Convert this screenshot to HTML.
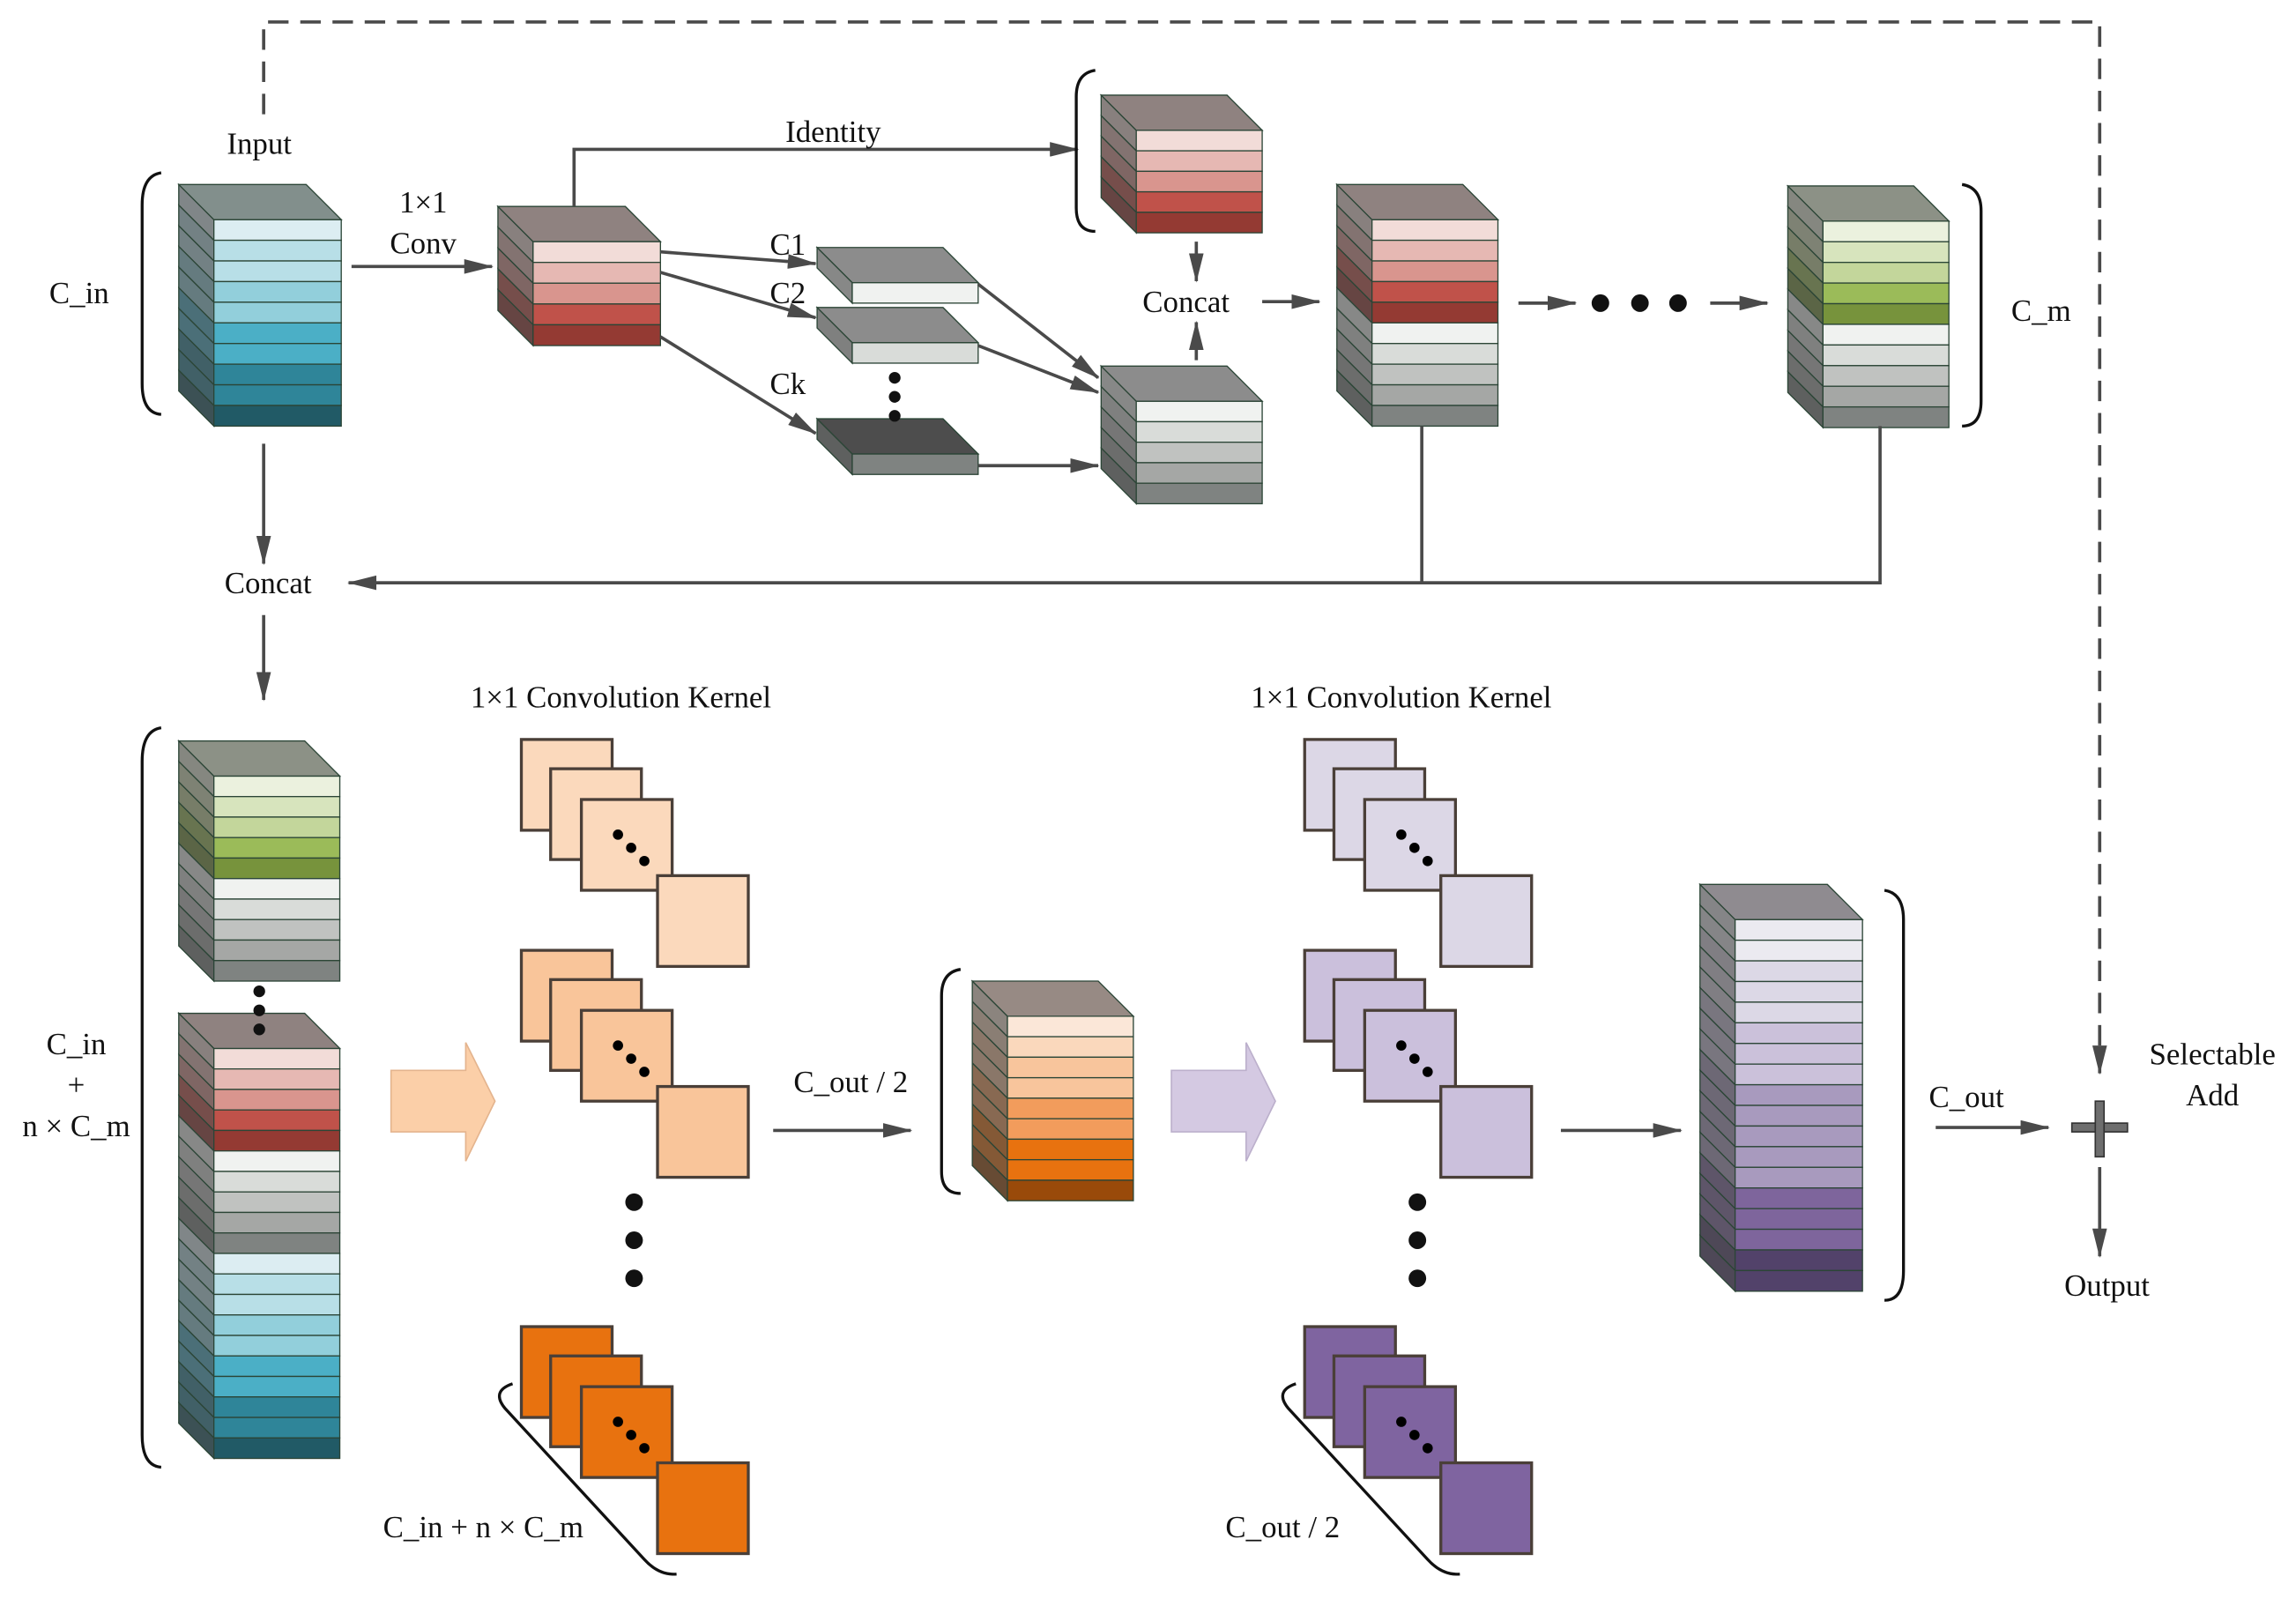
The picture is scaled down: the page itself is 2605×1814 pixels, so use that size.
<!DOCTYPE html>
<html><head><meta charset="utf-8">
<style>
html,body{margin:0;padding:0;background:#fff;}
svg{display:block;}
text{font-family:"Liberation Serif",serif;font-size:21px;fill:#111;}
</style></head>
<body>
<svg id="s" width="2605" height="1814" viewBox="0 0 1568 1092" xmlns="http://www.w3.org/2000/svg">
<defs>
<marker id="ah" viewBox="0 0 20 10" refX="19" refY="5" markerWidth="20" markerHeight="10" markerUnits="userSpaceOnUse" orient="auto">
<path d="M0,0 L20,5 L0,10 z" fill="#4a4a4a"/>
</marker>
</defs>
<g id="g"></g>
<g stroke="#4a4a4a" stroke-width="2.2" fill="none">
<path d="M180,78 V15 H1434 V733" stroke-dasharray="14,8" marker-end="url(#ah)"/>
<path d="M180,303 V385" marker-end="url(#ah)"/>
<path d="M180,420 V478" marker-end="url(#ah)"/>
<path d="M240,182 H336" marker-end="url(#ah)"/>
<path d="M392,141 V102 H736" marker-end="url(#ah)"/>
<path d="M451,172 L557,180" marker-end="url(#ah)"/>
<path d="M451,186 L557,217" marker-end="url(#ah)"/>
<path d="M451,230 L557,296" marker-end="url(#ah)"/>
<path d="M668,194 L750,258" marker-end="url(#ah)"/>
<path d="M668,236 L750,268" marker-end="url(#ah)"/>
<path d="M668,318 L750,318" marker-end="url(#ah)"/>
<path d="M817,246 V220" marker-end="url(#ah)"/>
<path d="M817,165 V192" marker-end="url(#ah)"/>
<path d="M862,206 H901" marker-end="url(#ah)"/>
<path d="M1037,207 H1076" marker-end="url(#ah)"/>
<path d="M1168,207 H1207" marker-end="url(#ah)"/>
<path d="M971,291 V398 M1284,291 V398 H238" />
<path d="M1284,398 H238" marker-end="url(#ah)"/>
<path d="M528,772 H622" marker-end="url(#ah)"/>
<path d="M1066,772 H1148" marker-end="url(#ah)"/>
<path d="M1322,770 H1399" marker-end="url(#ah)"/>
<path d="M1434,797 V858" marker-end="url(#ah)"/>
</g>
<g fill="#6e6e6e" stroke="#333" stroke-width="1">
<rect x="1415" y="767" width="38" height="6"/>
<rect x="1431" y="752" width="6" height="38"/>
</g>
<g fill="none" stroke="#111" stroke-width="2">
<path d="M110,118 Q97,120 97,140 V262 Q97,282 110,283"/>
<path d="M748,48 Q735,50 735,66 V142 Q735,158 748,158"/>
<path d="M1340,126 Q1353,128 1353,144 V274 Q1353,291 1340,291"/>
<path d="M110,497 Q97,499 97,520 V980 Q97,1001 110,1002"/>
<path d="M656,662 Q643,664 643,680 V800 Q643,815 656,815"/>
<path d="M1287,608 Q1300,610 1300,628 V868 Q1300,888 1287,888"/>
<path d="M350,945 Q335,950 345,962 L440,1065 Q450,1076 462,1075"/>
<path d="M885,945 Q870,950 880,962 L975,1065 Q985,1076 997,1075"/>
</g>
<g fill="#111">
<circle cx="1093" cy="207" r="6"/><circle cx="1120" cy="207" r="6"/><circle cx="1146" cy="207" r="6"/>
<circle cx="611" cy="258" r="4"/><circle cx="611" cy="271" r="4"/><circle cx="611" cy="284" r="4"/>
<circle cx="177" cy="677" r="4"/><circle cx="177" cy="690" r="4"/><circle cx="177" cy="703" r="4"/>
<circle cx="433" cy="821" r="6"/><circle cx="433" cy="847" r="6"/><circle cx="433" cy="873" r="6"/>
<circle cx="968" cy="821" r="6"/><circle cx="968" cy="847" r="6"/><circle cx="968" cy="873" r="6"/>
</g>
<path d="M267,731 H318 V712 L338,752 L318,793 V773 H267 Z" fill="#fbcfa8" stroke="#e4b48e" stroke-width="1"/>
<path d="M800,731 H851 V712 L871,752 L851,793 V773 H800 Z" fill="#d4c9e2" stroke="#bcb0cc" stroke-width="1"/>
<g text-anchor="middle">
<text x="177" y="105">Input</text>
<text x="289" y="145">1×1</text>
<text x="289" y="173">Conv</text>
<text x="569" y="97">Identity</text>
<text x="538" y="174">C1</text>
<text x="538" y="207">C2</text>
<text x="538" y="269">Ck</text>
<text x="810" y="213">Concat</text>
<text x="1394" y="219">C_m</text>
<text x="54" y="207">C_in</text>
<text x="183" y="405">Concat</text>
<text x="424" y="483">1×1 Convolution Kernel</text>
<text x="957" y="483">1×1 Convolution Kernel</text>
<text x="52" y="720">C_in</text>
<text x="52" y="748">+</text>
<text x="52" y="776">n × C_m</text>
<text x="581" y="746">C_out / 2</text>
<text x="1343" y="756">C_out</text>
<text x="1511" y="727">Selectable</text>
<text x="1511" y="755">Add</text>
<text x="1439" y="885">Output</text>
<text x="330" y="1050">C_in + n × C_m</text>
<text x="876" y="1050">C_out / 2</text>
</g>
</svg>
<script>
var G=document.getElementById('g'),out='';
function hx(c){return [parseInt(c.substr(1,2),16),parseInt(c.substr(3,2),16),parseInt(c.substr(5,2),16)];}
function side(c){var a=hx(c);var r=a.map(function(v){return Math.round((v*0.45+110*0.55)*0.8);});return 'rgb('+r.join(',')+')';}
function stack(x,y,w,d,h,cols,top){
 var s='';var n=cols.length;
 for(var i=0;i<n;i++){
  var y0=y+i*h,y1=y+(i+1)*h;
  s+='<polygon points="'+(x-d)+','+(y0-d)+' '+x+','+y0+' '+x+','+y1+' '+(x-d)+','+(y1-d)+'" fill="'+side(cols[i])+'" stroke="#2b4536" stroke-width="0.8"/>';
  s+='<rect x="'+x+'" y="'+y0+'" width="'+w+'" height="'+h+'" fill="'+cols[i]+'" stroke="#2b4536" stroke-width="0.8"/>';
 }
 s+='<polygon points="'+(x-d)+','+(y-d)+' '+(x-d+w)+','+(y-d)+' '+(x+w)+','+y+' '+x+','+y+'" fill="'+top+'" stroke="#2b4536" stroke-width="0.8"/>';
 out+=s;
}
function sq(x,y,f){out+='<rect x="'+x+'" y="'+y+'" width="62" height="62" fill="'+f+'" stroke="#4a3f38" stroke-width="2"/>';}
function grp(x,y,f,dots){sq(x,y,f);sq(x+20,y+20,f);sq(x+41,y+41,f);
 if(dots){out+='<circle cx="'+(x+66)+'" cy="'+(y+65)+'" r="3.5" fill="#000"/><circle cx="'+(x+75)+'" cy="'+(y+74)+'" r="3.5" fill="#000"/><circle cx="'+(x+84)+'" cy="'+(y+83)+'" r="3.5" fill="#000"/>';}
 sq(x+93,y+93,f);}
var blue=['#dcedf2','#b8dfe7','#b8dfe7','#92cfdb','#92cfdb','#4bafc6','#4bafc6','#2f8599','#2f8599','#215a66'];
var red=['#f2dcd8','#e6b8b3','#d9958e','#c0524a','#943a33'];
var grey=['#f0f2f0','#d9dcd9','#c0c2c0','#a5a7a5','#7f8381'];
var green=['#ebf1de','#d7e4bd','#c3d69b','#9bbb59','#77933c'];
stack(146,150,87,24,14.1,blue,'#828f8c');
stack(364,165,87,24,14.2,red,'#8f8280');
stack(582,193,86,24,14,['#f0f2f0'],'#8c8c8c');
stack(582,234,86,24,14,['#d9dcd9'],'#8c8c8c');
stack(582,310,86,24,14,['#7f8381'],'#4d4d4d');
stack(776,89,86,24,14,red,'#8f8280');
stack(776,274,86,24,14,grey,'#8c8c8c');
stack(937,150,86,24,14.1,red.concat(grey),'#8f8280');
stack(1245,151,86,24,14.1,green.concat(grey),'#8c9186');
stack(146,530,86,24,14,green.concat(grey),'#8c9186');
stack(146,716,86,24,14,red.concat(grey).concat(blue),'#8f8280');
stack(688,694,86,24,14,['#fbe7d8','#fad8bc','#f8c59c','#f8c59c','#f29c5c','#f29c5c','#e8720f','#e8720f','#994a0a'],'#978a84');
stack(1185,628,87,24,14.1,['#ebeaf0','#ebeaf0','#dcd8e6','#dcd8e6','#dcd8e6','#cbc1da','#cbc1da','#cbc1da','#a89abe','#a89abe','#a89abe','#a89abe','#a89abe','#7e659c','#7e659c','#7e659c','#52426a','#52426a'],'#8f8b90');
grp(356,505,'#fbd9bc',true);grp(356,649,'#f9c59a',true);grp(356,906,'#e8720f',true);
grp(891,505,'#dcd7e6',true);grp(891,649,'#cbc0dc',true);grp(891,906,'#7f64a0',true);
G.innerHTML=out;
</script>
</body></html>
